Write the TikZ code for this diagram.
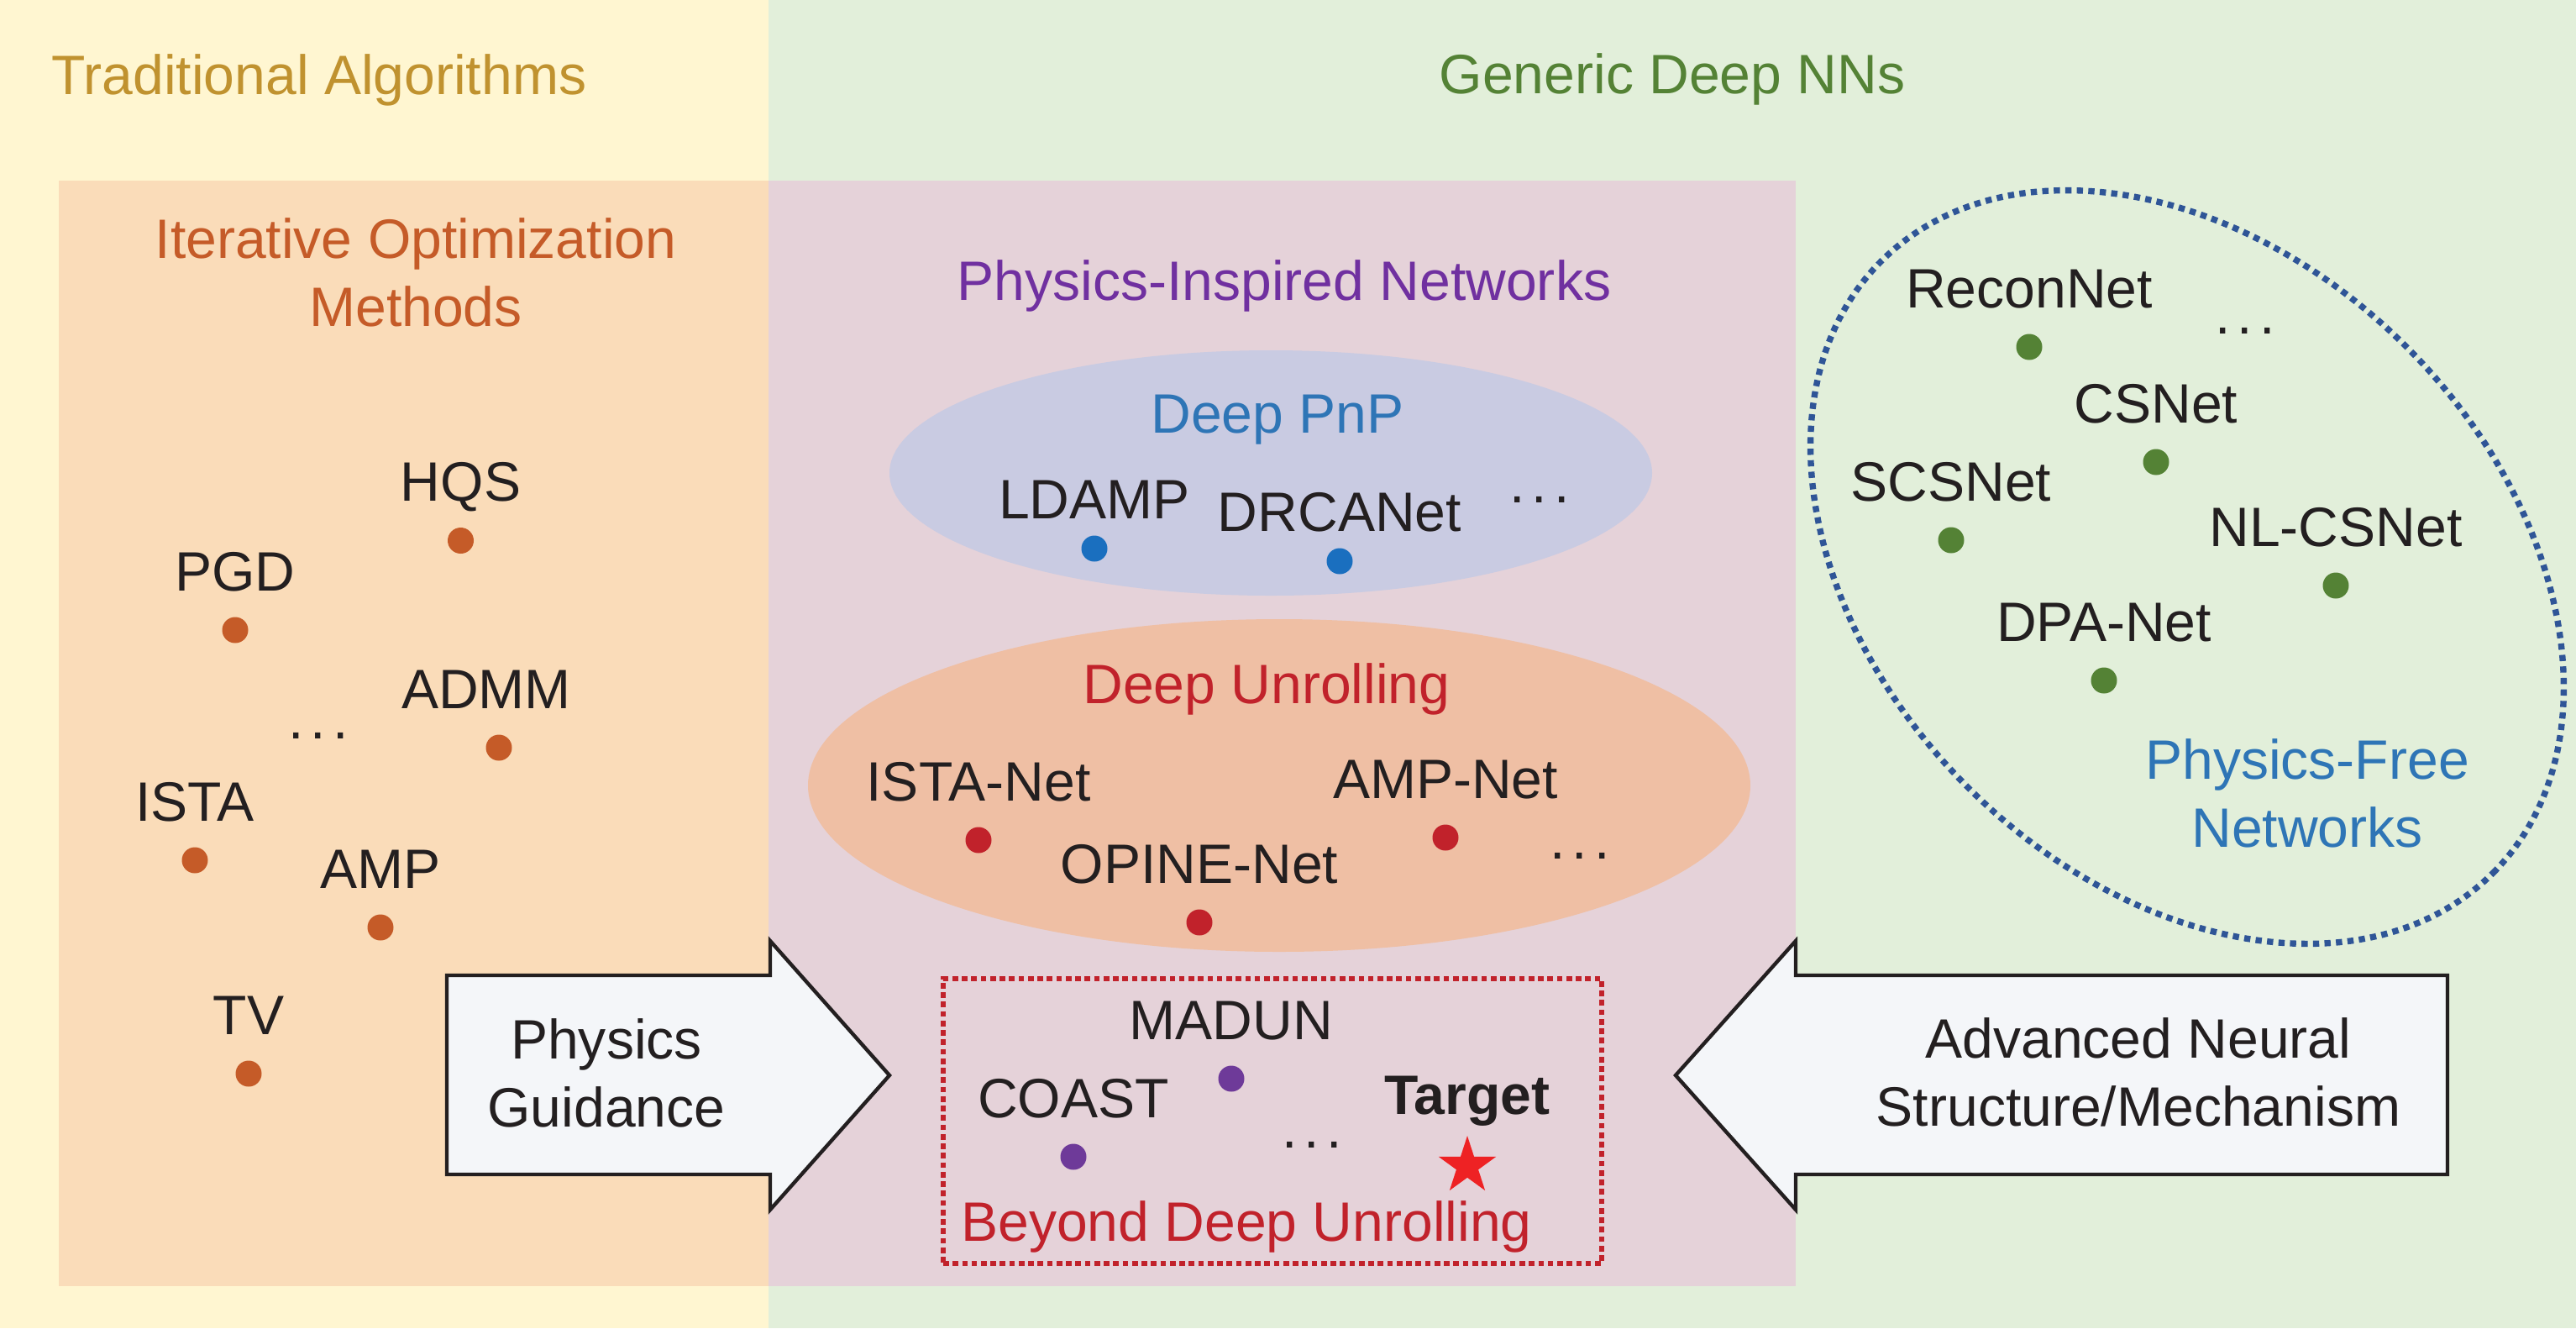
\documentclass[tikz,border=0pt]{standalone}
\usepackage{fontspec}
\setmainfont{Liberation Sans}
\usetikzlibrary{positioning, shapes.geometric}

\definecolor{bgyellow}{HTML}{FFF6D1}
\definecolor{bggreen}{HTML}{E2EFDA}
\definecolor{boxorange}{HTML}{FADCB9}
\definecolor{boxpink}{HTML}{E5D2D9}
\definecolor{pnpfill}{HTML}{C9CBE2}
\definecolor{unrollfill}{HTML}{EFBFA4}
\definecolor{arrowfill}{HTML}{F4F6F9}
\definecolor{ink}{HTML}{231F20}
\definecolor{cTrad}{HTML}{C0922F}
\definecolor{cGeneric}{HTML}{548235}
\definecolor{cIter}{HTML}{C55B28}
\definecolor{cPhys}{HTML}{7030A0}
\definecolor{cPnP}{HTML}{2E75B6}
\definecolor{cUnroll}{HTML}{C1222B}
\definecolor{cFree}{HTML}{2F5597}
\definecolor{cBlue}{HTML}{1A6FBF}
\definecolor{cPurple}{HTML}{6E3A99}
\definecolor{cStar}{HTML}{EE2224}

\newcommand{\moredots}{.\hspace{0.12em}.\hspace{0.12em}.}

\begin{document}
\begin{tikzpicture}[
        txt/.style={
            font=\fontsize{18.8}{22.8}\selectfont,
            text=ink,
            inner sep=0pt,
            align=center
        },
        lbl/.style={txt, text depth=0pt},
        mdot/.style={circle, fill=#1, minimum size=3.1mm, inner sep=0pt},
        blob/.style={ellipse, fill=#1, inner sep=0pt},
        arrowline/.style={draw=ink, fill=arrowfill, line width=1.25pt}
    ]
    \useasboundingbox (0,0) rectangle (30.67,-15.81);

    % 背景
    \fill[bgyellow] (0,0) rectangle (9.15,-15.81);
    \fill[bggreen] (9.15,0) rectangle (30.67,-15.81);
    \fill[boxorange] (0.70,-2.15) rectangle (9.15,-15.31);
    \fill[boxpink] (9.15,-2.15) rectangle (21.38,-15.31);

    \node[txt, text=cTrad, anchor=base] (trad) at (3.80,-1.12) {Traditional Algorithms};
    \node[txt, text=cGeneric, anchor=base] (generic) at (19.91,-1.11) {Generic Deep NNs};

    % 迭代优化方法
    \node[txt, text=cIter, anchor=base] (iter) at (4.95,-3.88) {Iterative Optimization\\Methods};
    \node[mdot=cIter] (hqs) at (5.485,-6.435) {};
    \node[lbl, above=3mm of hqs] (hqslbl) {HQS};
    \node[mdot=cIter] (pgd) at (2.80,-7.50) {};
    \node[lbl, above=3mm of pgd] (pgdlbl) {PGD};
    \node[mdot=cIter] (admm) at (5.94,-8.90) {};
    \node[lbl, above=3mm of admm, xshift=-1.5mm] (admmlbl) {ADMM};
    \node[mdot=cIter] (ista) at (2.32,-10.24) {};
    \node[lbl, above=3mm of ista] (istalbl) {ISTA};
    \node[mdot=cIter] (amp) at (4.53,-11.04) {};
    \node[lbl, above=3mm of amp] (amplbl) {AMP};
    \node[mdot=cIter] (tv) at (2.96,-12.78) {};
    \node[lbl, above=3mm of tv] (tvlbl) {TV};
    \node[txt] (itermore) at (3.79,-8.76) {\moredots};

    % 物理启发网络
    \node[txt, text=cPhys, anchor=base] (phys) at (15.29,-3.57) {Physics-Inspired Networks};

    \node[blob=pnpfill, minimum width=9.08cm, minimum height=2.92cm] (pnp) at (15.13,-5.63) {};
    \node[txt, text=cPnP, anchor=base] (pnplbl) at (15.21,-5.15) {Deep PnP};
    \node[mdot=cBlue] (ldamp) at (13.03,-6.53) {};
    \node[lbl, above=1.9mm of ldamp] (ldamplbl) {LDAMP};
    \node[mdot=cBlue] (drca) at (15.95,-6.68) {};
    \node[lbl, above=1.9mm of drca] (drcalbl) {DRCANet};
    \node[txt] (pnpmore) at (18.33,-5.95) {\moredots};

    \node[blob=unrollfill, minimum width=11.22cm, minimum height=3.96cm] (unroll) at (15.23,-9.35) {};
    \node[txt, text=cUnroll, anchor=base] (unrolllbl) at (15.08,-8.375) {Deep Unrolling};
    \node[mdot=cUnroll] (istanet) at (11.65,-10.00) {};
    \node[lbl, above=3mm of istanet] (istanetlbl) {ISTA-Net};
    \node[mdot=cUnroll] (ampnet) at (17.21,-9.97) {};
    \node[lbl, above=3mm of ampnet] (ampnetlbl) {AMP-Net};
    \node[mdot=cUnroll] (opine) at (14.28,-10.98) {};
    \node[lbl, above=3mm of opine] (opinelbl) {OPINE-Net};
    \node[txt] (unrollmore) at (18.81,-10.19) {\moredots};

    % 超越深度展开
    \node[draw=cUnroll, line width=1.7pt, dash pattern=on 1.9pt off 1.3pt,
        minimum width=7.84cm, minimum height=3.39cm, inner sep=0pt] (beyond) at (15.15,-13.345) {};
    \node[mdot=cPurple] (madun) at (14.66,-12.84) {};
    \node[lbl, above=3mm of madun] (madunlbl) {MADUN};
    \node[mdot=cPurple] (coast) at (12.78,-13.77) {};
    \node[lbl, above=3mm of coast] (coastlbl) {COAST};
    \node[star, star points=5, star point ratio=2.618, fill=cStar,
        minimum size=7.2mm, inner sep=0pt] (target) at (17.47,-13.88) {};
    \node[lbl, font=\fontsize{18.8}{22.8}\selectfont\bfseries, above=2.3mm of target] (targetlbl) {Target};
    \node[txt] (beyondmore) at (15.62,-13.63) {\moredots};
    \node[txt, text=cUnroll, anchor=base] (beyondlbl) at (14.84,-14.77) {Beyond Deep Unrolling};

    % 两个箭头
    \draw[arrowline] (5.32,-11.61) -- (9.17,-11.61) -- (9.17,-11.20) -- (10.59,-12.80)
        -- (9.17,-14.40) -- (9.17,-13.98) -- (5.32,-13.98) -- cycle;
    \node[txt, anchor=base] (guide) at (7.22,-13.41) {Physics\\Guidance};
    \draw[arrowline] (29.14,-11.61) -- (21.38,-11.61) -- (21.38,-11.20) -- (19.95,-12.80)
        -- (21.38,-14.40) -- (21.38,-13.98) -- (29.14,-13.98) -- cycle;
    \node[txt, anchor=base] (struct) at (25.46,-13.40) {Advanced Neural\\Structure/Mechanism};

    % 无物理网络
    \node[ellipse, draw=cFree, line width=2.1pt, dash pattern=on 2.1pt off 1.8pt,
        minimum width=10.3cm, minimum height=7.4cm, rotate=-45, inner sep=0pt] (free) at (26.04,-6.75) {};
    \node[mdot=cGeneric] (recon) at (24.16,-4.13) {};
    \node[lbl, above=3mm of recon] (reconlbl) {ReconNet};
    \node[mdot=cGeneric] (csnet) at (25.67,-5.50) {};
    \node[lbl, above=3mm of csnet] (csnetlbl) {CSNet};
    \node[mdot=cGeneric] (scsnet) at (23.23,-6.43) {};
    \node[lbl, above=3mm of scsnet] (scsnetlbl) {SCSNet};
    \node[mdot=cGeneric] (nlcs) at (27.81,-6.97) {};
    \node[lbl, above=3mm of nlcs] (nlcslbl) {NL-CSNet};
    \node[mdot=cGeneric] (dpa) at (25.05,-8.10) {};
    \node[lbl, above=3mm of dpa] (dpalbl) {DPA-Net};
    \node[txt] (freemore) at (26.73,-3.94) {\moredots};
    \node[txt, text=cPnP, anchor=base] (freelbl) at (27.47,-10.08) {Physics-Free\\Networks};
\end{tikzpicture}
\end{document}
